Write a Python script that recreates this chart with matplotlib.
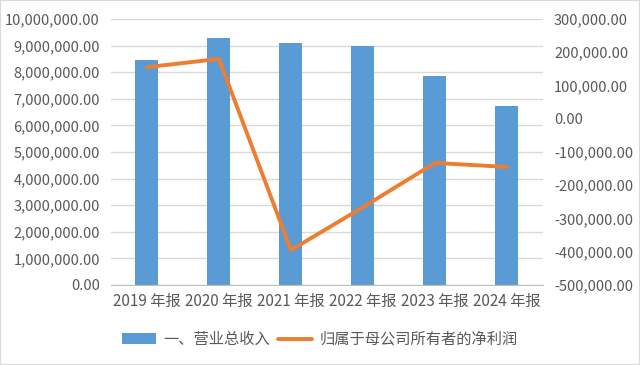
import matplotlib.pyplot as plt
from matplotlib.ticker import FuncFormatter, MultipleLocator
from matplotlib.patches import Rectangle

plt.rcParams['font.family'] = ['Noto Sans CJK SC', 'DejaVu Sans']

# 数据
years = ['2019 年报', '2020 年报', '2021 年报', '2022 年报', '2023 年报', '2024 年报']
revenue = [8460000, 9290000, 9100000, 8980000, 7860000, 6730000]
net_profit = [155000, 180000, -395000, -266000, -133000, -145000]

bar_color = '#5b9bd5'
line_color = '#ed7d31'
text_color = '#595959'
grid_color = '#d9d9d9'

fig = plt.figure(figsize=(6.4, 3.65), dpi=100)
fig.patches.append(Rectangle((0, 0), 1, 1, transform=fig.transFigure,
                             fill=False, edgecolor='#d9d9d9', linewidth=1.5))
ax = fig.add_axes([0.1734, 0.2192, 0.675, 0.7288])
ax2 = ax.twinx()

x = range(len(years))
bars = ax.bar(x, revenue, width=0.32, color=bar_color, zorder=2,
              label='一、营业总收入')
line, = ax2.plot(x, net_profit, color=line_color, linewidth=2.8,
                 solid_capstyle='round', label='归属于母公司所有者的净利润')

ax.set_xlim(-0.5, len(years) - 0.5)
ax.set_ylim(0, 10000000)
ax.yaxis.set_major_locator(MultipleLocator(1000000))
ax2.set_ylim(-500000, 300000)
ax2.yaxis.set_major_locator(MultipleLocator(100000))

fmt = FuncFormatter(lambda v, p: f'{v:,.2f}')
ax.yaxis.set_major_formatter(fmt)
ax2.yaxis.set_major_formatter(fmt)

ax.grid(axis='y', color=grid_color, linewidth=1, zorder=0)
ax.set_axisbelow(True)
ax.set_xticks(list(x))
ax.set_xticklabels(years)

for a in (ax, ax2):
    for s in ['top', 'left', 'right']:
        a.spines[s].set_visible(False)
    a.spines['bottom'].set_visible(False)
    a.tick_params(length=0, colors=text_color, labelsize=10.5)
ax.spines['bottom'].set_visible(True)
ax.spines['bottom'].set_color('#bfbfbf')
ax.tick_params(axis='x', pad=6, labelsize=11)
ax.tick_params(axis='y', pad=8)
ax2.tick_params(axis='y', pad=8)

fig.legend(handles=[bars, line], loc='center', bbox_to_anchor=(0.5, 0.07),
           ncol=2, frameon=False, fontsize=11, labelcolor=text_color,
           handlelength=2.2, columnspacing=0.5, handletextpad=0.5)

fig.savefig('out.png', dpi=100)
